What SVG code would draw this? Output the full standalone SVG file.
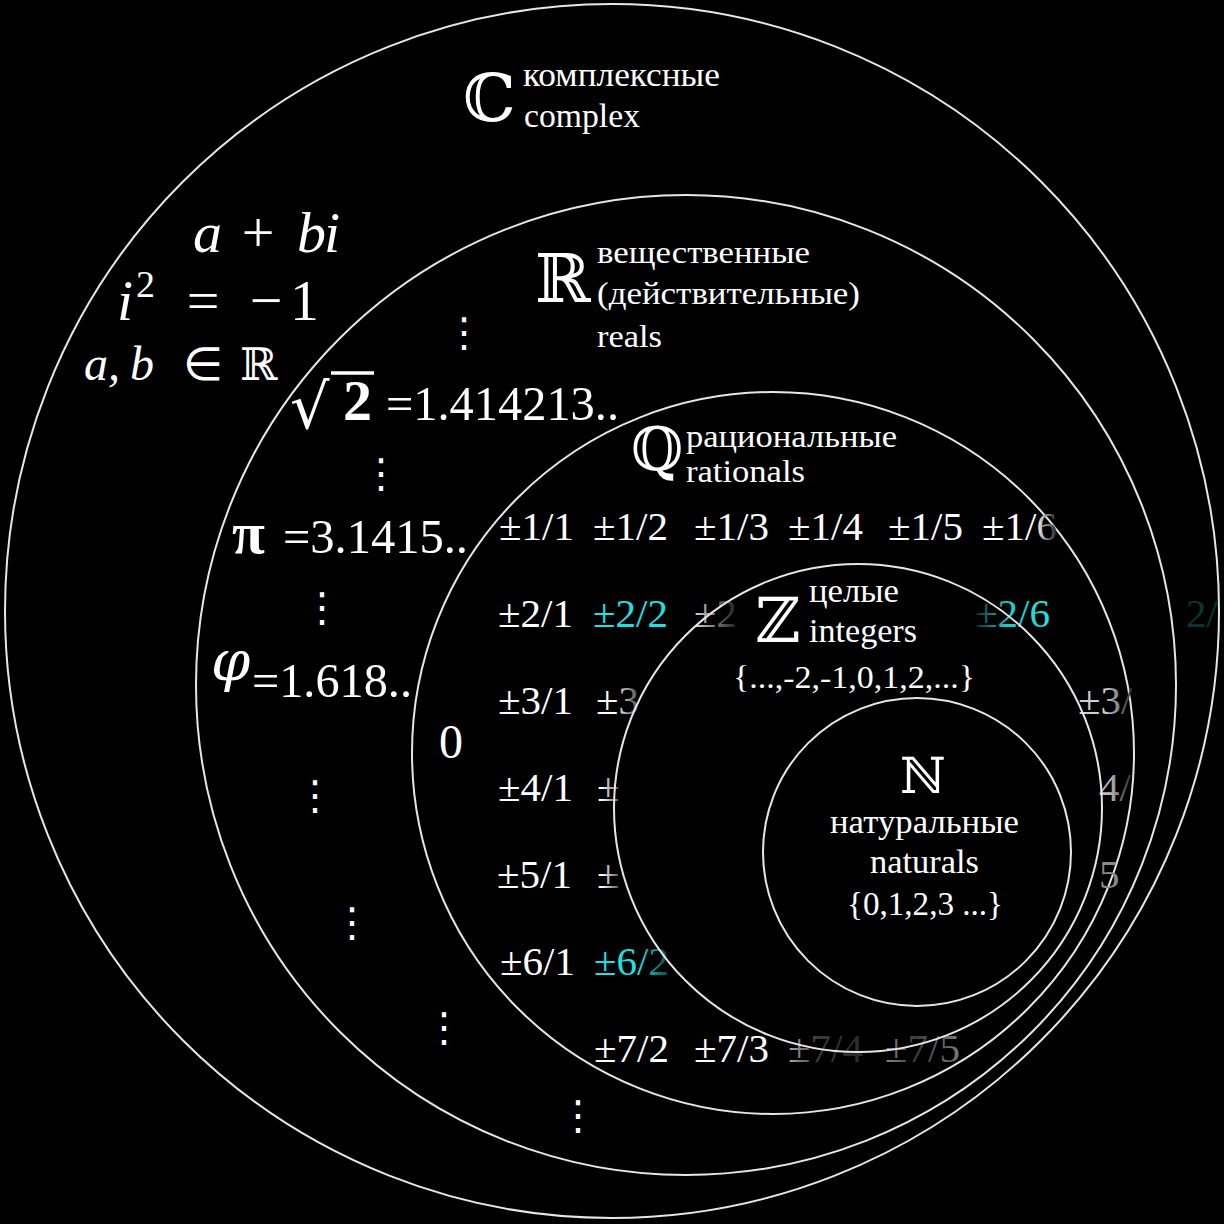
<svg xmlns="http://www.w3.org/2000/svg" width="1224" height="1224" viewBox="0 0 1224 1224">
<style>
.ring{fill:none;stroke:#e6e6e6;stroke-width:2}
.t{font-family:'Liberation Serif','Times New Roman',Times,serif;fill:#fff}
.bb{font-family:'DejaVu Serif','DejaVu Sans',serif;fill:#fff}
.it{font-family:'Liberation Serif','Times New Roman',Times,serif;font-style:italic;fill:#fff}
.g{font-family:'Liberation Serif','Times New Roman',Times,serif;font-size:41px;fill:#fff}
.cy{fill:#20e0e0}
.vd{font-family:'DejaVu Sans',sans-serif;font-size:40px;fill:#fff;text-anchor:middle}
</style>
<defs>
<linearGradient id="f16" x1="0" y1="0" x2="1" y2="0"><stop offset="0.72" stop-color="#fff"/><stop offset="1" stop-color="#222"/></linearGradient>
<linearGradient id="f23" x1="0" y1="0" x2="1" y2="0"><stop offset="0" stop-color="#d8d8d8"/><stop offset="1" stop-color="#1a1a1a"/></linearGradient>
<linearGradient id="f32" x1="0" y1="0" x2="1" y2="0"><stop offset="0.45" stop-color="#fff"/><stop offset="1" stop-color="#444"/></linearGradient>
<linearGradient id="fpm" x1="0" y1="0" x2="1" y2="0"><stop offset="0.2" stop-color="#fff"/><stop offset="1" stop-color="#555"/></linearGradient>
<linearGradient id="f62" x1="0" y1="0" x2="1" y2="0"><stop offset="0.6" stop-color="#20e0e0"/><stop offset="1" stop-color="#064848"/></linearGradient>
<linearGradient id="f26" x1="0" y1="0" x2="1" y2="0"><stop offset="0" stop-color="#052a2a"/><stop offset="0.4" stop-color="#1cc8c8"/><stop offset="1" stop-color="#20e6e6"/></linearGradient>
<linearGradient id="f37" x1="0" y1="0" x2="1" y2="0"><stop offset="0.5" stop-color="#d0d0d0"/><stop offset="1" stop-color="#2a2a2a"/></linearGradient>
<linearGradient id="f47" x1="0" y1="0" x2="1" y2="0"><stop offset="0.3" stop-color="#bdbdbd"/><stop offset="1" stop-color="#333"/></linearGradient>
<linearGradient id="f74" x1="0" y1="0" x2="1" y2="0"><stop offset="0" stop-color="#aaa"/><stop offset="0.4" stop-color="#3a3a3a"/><stop offset="1" stop-color="#2a2a2a"/></linearGradient>
<linearGradient id="f75" x1="0" y1="0" x2="1" y2="0"><stop offset="0" stop-color="#8a8a8a"/><stop offset="0.4" stop-color="#3a3a3a"/><stop offset="1" stop-color="#7a7a7a"/></linearGradient>
</defs>
<rect width="1224" height="1224" fill="#000"/>

<g id="complex">
<circle class="ring" cx="612" cy="611" r="607"/>
<text class="bb" x="463" y="121" font-size="66">ℂ</text>
<text class="t" x="523" y="86" font-size="33" textLength="197" lengthAdjust="spacingAndGlyphs">комплексные</text>
<text class="t" x="524" y="127" font-size="33" textLength="116" lengthAdjust="spacingAndGlyphs">complex</text>
<text class="it" y="252" font-size="58"><tspan x="193">a</tspan><tspan x="297">b</tspan><tspan x="324">i</tspan></text>
<text class="t" x="258" y="252" font-size="58" text-anchor="middle">+</text>
<text class="it" x="117" y="320" font-size="58">i</text>
<text class="t" x="136" y="297" font-size="38">2</text>
<text class="t" x="203" y="320" font-size="58" text-anchor="middle">=</text>
<text class="t" x="266" y="320" font-size="58" text-anchor="middle">−</text>
<text class="t" x="290" y="320" font-size="58">1</text>
<text class="it" y="380" font-size="48"><tspan x="84">a,</tspan><tspan x="130">b</tspan></text>
<text class="t" x="203" y="380" font-size="46" text-anchor="middle">∈</text>
<text class="bb" x="240" y="380" font-size="45">ℝ</text>
</g>

<g id="reals">
<circle class="ring" cx="686" cy="685" r="490"/>
<text class="bb" x="535" y="302" font-size="67">ℝ</text>
<text class="t" x="597" y="263" font-size="32" textLength="213" lengthAdjust="spacingAndGlyphs">вещественные</text>
<text class="t" x="597" y="304" font-size="32" textLength="263" lengthAdjust="spacingAndGlyphs">(действительные)</text>
<text class="t" x="597" y="347" font-size="32" textLength="65" lengthAdjust="spacingAndGlyphs">reals</text>
<text class="bb" x="290" y="428" font-size="62">√</text>
<line x1="331" y1="373" x2="374" y2="373" stroke="#fff" stroke-width="3.5"/>
<text class="t" x="343" y="420" font-size="58" font-weight="bold">2</text>
<text class="t" x="386" y="420" font-size="48" textLength="233" lengthAdjust="spacingAndGlyphs">=1.414213..</text>
<text class="t" x="232" y="553" font-size="60" font-weight="bold">π</text>
<text class="t" x="283" y="553" font-size="48" textLength="185" lengthAdjust="spacingAndGlyphs">=3.1415..</text>
<text class="bb" x="211" y="680" font-size="56" font-style="italic">φ</text>
<text class="t" x="252" y="697" font-size="48" textLength="160" lengthAdjust="spacingAndGlyphs">=1.618..</text>
<text class="vd" x="464" y="346">⋮</text>
<text class="vd" x="381" y="487">⋮</text>
<text class="vd" x="322" y="621">⋮</text>
<text class="vd" x="315" y="809">⋮</text>
<text class="vd" x="352" y="936">⋮</text>
<text class="vd" x="444" y="1041">⋮</text>
<text class="vd" x="578" y="1129">⋮</text>
</g>

<g id="rationals">
<circle class="ring" cx="773" cy="753" r="361"/>
<text class="bb" x="631" y="470" font-size="60">ℚ</text>
<text class="t" x="686" y="447" font-size="32" textLength="211" lengthAdjust="spacingAndGlyphs">рациональные</text>
<text class="t" x="686" y="482" font-size="32" textLength="119" lengthAdjust="spacingAndGlyphs">rationals</text>
<text class="t" x="439" y="758" font-size="48">0</text>
<g id="fractions" class="g">
<text x="499" y="540">±1/1</text>
<text x="593" y="540">±1/2</text>
<text x="694" y="540">±1/3</text>
<text x="788" y="540">±1/4</text>
<text x="888" y="540">±1/5</text>
<text x="982" y="540" fill="url(#f16)">±1/6</text>
<text x="498" y="627">±2/1</text>
<text x="593" y="627" class="cy">±2/2</text>
<text x="694" y="627" fill="url(#f23)">±2</text>
<text x="975" y="627" fill="url(#f26)">±2/6</text>
<text x="1186" y="627" fill="#0a3434">2/</text>
<text x="498" y="714">±3/1</text>
<text x="596" y="714" fill="url(#f32)">±3</text>
<text x="1078" y="714" fill="url(#f37)">±3/</text>
<text x="498" y="801">±4/1</text>
<text x="597" y="801" fill="url(#fpm)">±</text>
<text x="1099" y="801" fill="url(#f47)">4/</text>
<text x="497" y="888">±5/1</text>
<text x="597" y="888" fill="url(#fpm)">±</text>
<text x="1099" y="888" fill="#8a8a8a">5</text>
<text x="500" y="975">±6/1</text>
<text x="594" y="975" fill="url(#f62)">±6/2</text>
<text x="594" y="1062">±7/2</text>
<text x="694" y="1062">±7/3</text>
<text x="788" y="1062" fill="url(#f74)">±7/4</text>
<text x="885" y="1062" fill="url(#f75)">±7/5</text>
</g>
</g>

<g id="integers">
<circle class="ring" cx="858" cy="808" r="244" fill="#000"/>
<text class="bb" x="755" y="642" font-size="62">ℤ</text>
<text class="t" x="809" y="602" font-size="33" textLength="90" lengthAdjust="spacingAndGlyphs">целые</text>
<text class="t" x="809" y="642" font-size="33" textLength="108" lengthAdjust="spacingAndGlyphs">integers</text>
<text class="t" x="733" y="688" font-size="31" textLength="242" lengthAdjust="spacingAndGlyphs">{...,-2,-1,0,1,2,...}</text>
</g>

<g id="naturals">
<circle class="ring" cx="917" cy="852" r="154"/>
<text class="bb" x="900" y="793" font-size="50">ℕ</text>
<text class="t" x="830" y="833" font-size="34" textLength="189" lengthAdjust="spacingAndGlyphs">натуральные</text>
<text class="t" x="870" y="873" font-size="34" textLength="109" lengthAdjust="spacingAndGlyphs">naturals</text>
<text class="t" x="847" y="915" font-size="33" textLength="156" lengthAdjust="spacingAndGlyphs">{0,1,2,3 ...}</text>
</g>
<g id="connectors"/>
</svg>
